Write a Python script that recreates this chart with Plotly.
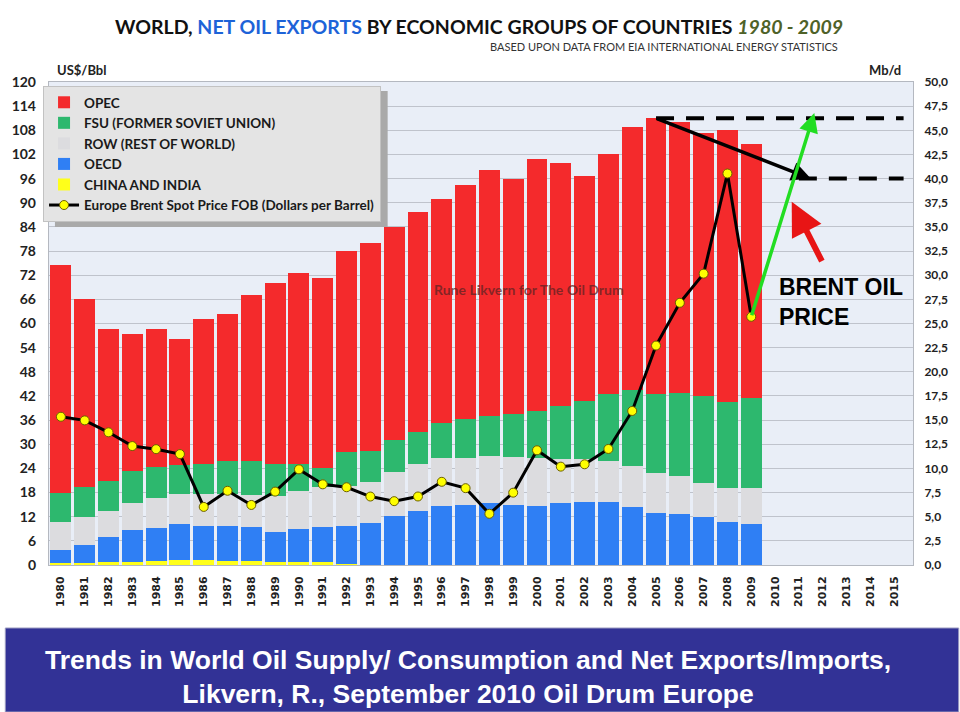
import plotly.graph_objects as go

# ---------------- data ----------------
years = list(range(1980, 2010))
axis_years = list(range(1980, 2016))

# Net exports, Mb/d (right axis)
china_india = [0.25, 0.25, 0.35, 0.35, 0.45, 0.5, 0.5, 0.45, 0.4, 0.35,
               0.35, 0.3, 0.15, 0, 0, 0, 0, 0, 0, 0,
               0, 0, 0, 0, 0, 0, 0, 0, 0, 0]
oecd = [1.3, 1.78, 2.51, 3.24, 3.41, 3.74, 3.54, 3.62, 3.5, 3.1,
        3.34, 3.67, 3.92, 4.31, 5.07, 5.59, 6.14, 6.21, 6.39, 6.21,
        6.14, 6.39, 6.55, 6.55, 6.04, 5.35, 5.28, 4.94, 4.42, 4.21]
row = [2.87, 2.97, 2.73, 2.79, 3.08, 3.07, 3.27, 3.24, 3.35, 3.69,
       3.93, 4.08, 4.14, 4.25, 4.53, 4.83, 4.9, 4.9, 4.93, 4.97,
       4.97, 4.55, 4.39, 4.25, 4.21, 4.14, 3.97, 3.52, 3.52, 3.73]
fsu = [3.0, 3.11, 3.11, 3.39, 3.2, 3.04, 3.18, 3.42, 3.48, 3.35,
       2.84, 1.97, 3.49, 3.27, 3.3, 3.31, 3.63, 3.97, 4.1, 4.42,
       4.83, 5.52, 6.07, 6.9, 7.87, 8.21, 8.52, 9.07, 8.9, 9.38]
opec = [23.64, 19.39, 15.76, 14.18, 14.32, 13.01, 14.98, 15.22, 17.25, 18.74,
        19.8, 19.72, 20.84, 21.47, 22.09, 22.77, 23.23, 24.29, 25.48, 24.4,
        26.06, 25.19, 23.29, 24.88, 27.22, 28.54, 28.06, 27.22, 28.16, 26.23]

# Europe Brent spot price FOB, US$/bbl (left axis)
brent = [36.83, 35.93, 32.97, 29.55, 28.78, 27.56, 14.43, 18.44, 14.92, 18.23,
         23.76, 20.04, 19.32, 17.01, 15.86, 17.02, 20.67, 19.09, 12.72, 17.97,
         28.50, 24.44, 25.02, 28.83, 38.27, 54.52, 65.14, 72.39, 97.26, 61.67]

left_ticks = list(range(0, 121, 6))
right_ticks = [i * 2.5 for i in range(0, 21)]
LEFT_MAX = 120
RIGHT_MAX = 50

# annotation anchor points (data units: year, Mb/d)
black_arrow_tip = (2011.5, 40.0)
lower_dash_start = 2011.0
dash_end = 2015.4
green_arrow_tip = (2011.65, 46.8)
red_arrow_tail = (2012.0, 31.3)
red_arrow_tip = (2010.7, 37.6)

# ---------------- figure ----------------
fig = go.Figure()

series = [
    ("CHINA AND INDIA", china_india, "#ffff1a", 5),
    ("OECD", oecd, "#2f7ff4", 4),
    ("ROW (REST OF WORLD)", row, "#dcdcdf", 3),
    ("FSU (FORMER SOVIET UNION)", fsu, "#2db86e", 2),
    ("OPEC", opec, "#f42a2c", 1),
]
for name, vals, col, rank in series:
    fig.add_trace(go.Bar(
        x=years, y=vals, name=name, marker=dict(color=col, line=dict(width=0)),
        legendrank=rank, yaxis="y", xaxis="x",
    ))

fig.add_trace(go.Scatter(
    x=years, y=brent, name="Europe Brent Spot Price FOB (Dollars per Barrel)",
    mode="lines+markers", yaxis="y2", legendrank=6,
    line=dict(color="#000000", width=3),
    marker=dict(color="#ffff00", size=9, line=dict(color="#6b5e00", width=1)),
))

totals = [a + b + c + d + e for a, b, c, d, e in zip(china_india, oecd, row, fsu, opec)]
peak_year = years[totals.index(max(totals))]
peak_val = max(totals)
last_price_right_units = brent[-1] * RIGHT_MAX / LEFT_MAX


def px_x(p):
    return (p - 44) / 870


def px_y(p):
    return (565 - p) / 483


shapes = []
# shadow behind legend
shapes.append(dict(type="rect", xref="paper", yref="paper",
                   x0=px_x(50), x1=px_x(385), y0=px_y(227), y1=px_y(91),
                   fillcolor="#a9a9a9", line=dict(width=0), layer="above"))
# dashed level lines
shapes.append(dict(type="line", xref="x", yref="y", x0=peak_year, x1=dash_end,
                   y0=peak_val, y1=peak_val,
                   line=dict(color="black", width=4, dash="18px,12px"), layer="above"))
shapes.append(dict(type="line", xref="x", yref="y", x0=lower_dash_start, x1=dash_end,
                   y0=black_arrow_tip[1], y1=black_arrow_tip[1],
                   line=dict(color="black", width=4, dash="18px,12px"), layer="above"))
# bottom banner
shapes.append(dict(type="rect", xref="paper", yref="paper",
                   x0=px_x(0), x1=px_x(960), y0=px_y(712), y1=px_y(628),
                   fillcolor="#323296", line=dict(color="#9a9ac0", width=1), layer="above"))

annotations = []
annotations.append(dict(
    xref="paper", yref="paper", x=px_x(477), y=px_y(27),
    xanchor="center", yanchor="middle", showarrow=False,
    text="WORLD, <span style='color:#1d63d8'>NET OIL EXPORTS</span> BY ECONOMIC GROUPS OF COUNTRIES "
         "<span style='color:#4f6228'><i>1980 - 2009</i></span>",
    font=dict(family="Lato, Open Sans, sans-serif", size=19.5, color="#111111", weight="bold"),
))
annotations.append(dict(
    xref="paper", yref="paper", x=px_x(840), y=px_y(47),
    xanchor="right", yanchor="middle", showarrow=False,
    text="BASED UPON DATA FROM EIA INTERNATIONAL ENERGY STATISTICS",
    font=dict(family="Lato, sans-serif", size=11, color="#333333"),
))
annotations.append(dict(
    xref="paper", yref="paper", x=px_x(50), y=px_y(70),
    xanchor="left", yanchor="middle", showarrow=False, text="US$/Bbl",
    font=dict(family="Lato, sans-serif", size=13, color="#222222", weight="bold"),
))
annotations.append(dict(
    xref="paper", yref="paper", x=px_x(868), y=px_y(70),
    xanchor="left", yanchor="middle", showarrow=False, text="Mb/d",
    font=dict(family="Lato, sans-serif", size=13, color="#222222", weight="bold"),
))
annotations.append(dict(
    xref="paper", yref="paper", x=px_x(527), y=px_y(289),
    xanchor="center", yanchor="middle", showarrow=False,
    text="Rune Likvern for The Oil Drum",
    font=dict(family="Lato, sans-serif", size=14, color="rgba(95,35,35,0.75)", weight="bold"),
))
annotations.append(dict(
    xref="paper", yref="paper", x=px_x(777), y=px_y(302),
    xanchor="left", yanchor="middle", showarrow=False, align="left",
    text="BRENT OIL<br>PRICE",
    font=dict(family="Liberation Sans, Arial, sans-serif", size=23, color="#000000", weight="bold"),
))
annotations.append(dict(
    xref="paper", yref="paper", x=px_x(466), y=px_y(677),
    xanchor="center", yanchor="middle", showarrow=False, align="center",
    text="Trends in World Oil Supply/ Consumption and Net Exports/Imports,<br>"
         "Likvern, R., September 2010 Oil Drum Europe",
    font=dict(family="Liberation Sans, Arial, sans-serif",
              size=26.5, color="#ffffff", weight="bold"),
))
# arrows
annotations.append(dict(
    xref="x", yref="y", axref="x", ayref="y",
    x=black_arrow_tip[0], y=black_arrow_tip[1], ax=peak_year, ay=peak_val,
    text="", showarrow=True, arrowhead=2, arrowsize=1.1, arrowwidth=3.5,
    arrowcolor="#000000", standoff=0, startstandoff=0,
))
annotations.append(dict(
    xref="x", yref="y", axref="x", ayref="y",
    x=green_arrow_tip[0], y=green_arrow_tip[1], ax=years[-1], ay=last_price_right_units,
    text="", showarrow=True, arrowhead=2, arrowsize=1.1, arrowwidth=3.5,
    arrowcolor="#22dd22", standoff=0, startstandoff=0,
))
annotations.append(dict(
    xref="x", yref="y", axref="x", ayref="y",
    x=red_arrow_tip[0], y=red_arrow_tip[1], ax=red_arrow_tail[0], ay=red_arrow_tail[1],
    text="", showarrow=True, arrowhead=2, arrowsize=1.1, arrowwidth=6,
    arrowcolor="#e81515", standoff=0, startstandoff=0,
))

fig.update_layout(
    width=960, height=712,
    margin=dict(l=44, r=46, t=82, b=147),
    paper_bgcolor="#ffffff", plot_bgcolor="#e9eef7",
    barmode="stack", bargap=0.12,
    separators=", ",
    showlegend=True,
    legend=dict(
        x=px_x(38), y=px_y(86), xanchor="left", yanchor="top",
        bgcolor="#e4e4e4", bordercolor="#c2c2c2", borderwidth=1,
        font=dict(family="Lato, sans-serif", size=13.5, color="#1a1a1a", weight="bold"),
        traceorder="normal", itemwidth=30, tracegroupgap=0,
    ),
    xaxis=dict(
        range=[1979.5, 1979.5 + 870 / 23.97], tickmode="array",
        tickvals=axis_years, ticktext=[str(y) for y in axis_years],
        tickangle=-90, showgrid=False, zeroline=False,
        showline=True, linecolor="#b4b8c0", mirror=True,
        ticks="", ticklabelstandoff=6,
        tickfont=dict(family="DejaVu Sans, sans-serif", size=11, color="#222222", weight="bold"),
    ),
    yaxis=dict(
        side="right", range=[0, RIGHT_MAX], tickmode="array", tickvals=right_ticks,
        tickformat=".1f", showgrid=True, gridcolor="#bfc3cc", gridwidth=1,
        zeroline=False, showline=True, linecolor="#b4b8c0", mirror=True,
        ticks="", ticklabelstandoff=8,
        tickfont=dict(family="Lato, sans-serif", size=12, color="#222222", weight="bold"),
    ),
    yaxis2=dict(
        side="left", overlaying="y", range=[0, LEFT_MAX], tickmode="array",
        tickvals=left_ticks, showgrid=False, zeroline=False,
        ticks="", ticklabelstandoff=12,
        tickfont=dict(family="Lato, sans-serif", size=14, color="#222222", weight="bold"),
    ),
    shapes=shapes, annotations=annotations,
)

fig.write_html("out.html")
